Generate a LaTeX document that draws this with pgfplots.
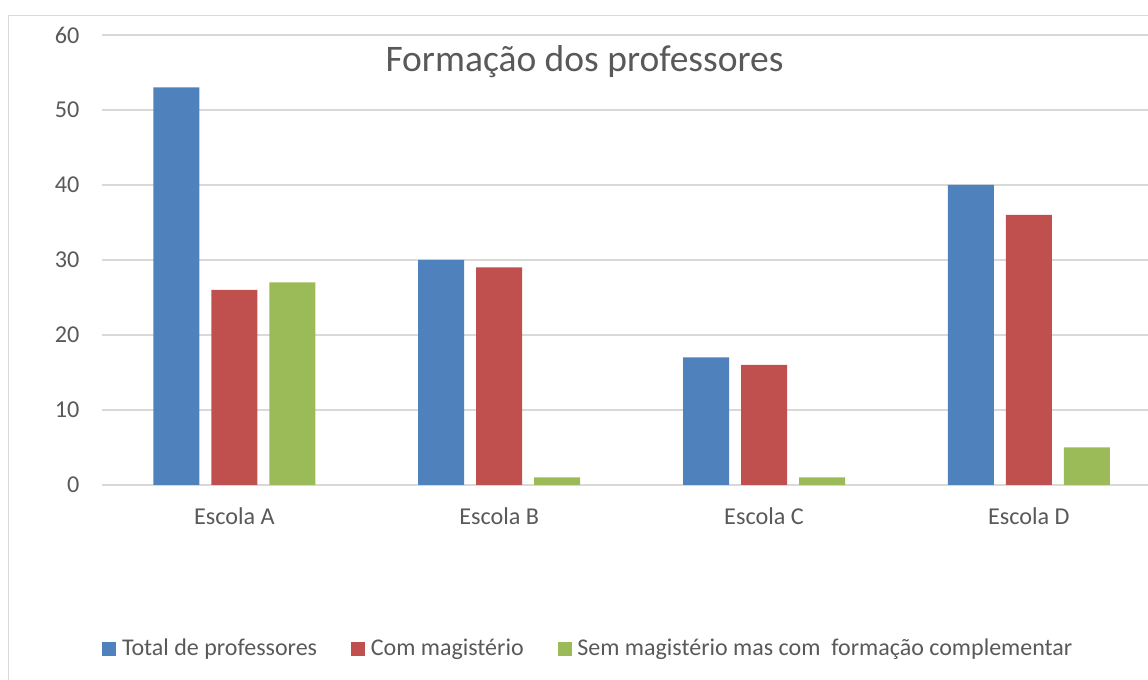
\documentclass[border=0pt]{standalone}
\usepackage{fontspec}
\setmainfont{Carlito}
\usepackage{pgfplots}
\pgfplotsset{compat=1.18}
\definecolor{cblue}{HTML}{4F81BD}
\definecolor{cred}{HTML}{C0504D}
\definecolor{cgreen}{HTML}{9BBB59}
\definecolor{cgrid}{HTML}{D9D9D9}
\definecolor{ctext}{HTML}{595959}
\begin{document}
\begin{tikzpicture}
\useasboundingbox (0,0) rectangle (574pt,340pt);
\draw[cgrid, line width=0.75pt] (4.15pt,-20pt) -- (4.15pt,332.35pt) -- (600pt,332.35pt);
\begin{axis}[
  at={(51pt,97.5pt)}, anchor=south west,
  scale only axis, width=523pt, height=225pt,
  xmin=-0.5, xmax=3.45, ymin=0, ymax=60,
  enlargelimits=false,
  ybar=6pt, bar width=23pt,
  axis line style={draw=none},
  major tick length=0pt,
  ytick={0,10,20,30,40,50,60},
  xtick={0,1,2,3},
  xticklabels={Escola A,Escola B,Escola C,Escola D},
  ymajorgrids, grid style={cgrid, line width=0.65pt},
  /pgf/number format/assume math mode=true,
  tick label style={font=\fontsize{12.1}{14}\selectfont, text=ctext, inner sep=0pt},
  yticklabel style={anchor=east, xshift=-11.1pt},
  xticklabel style={anchor=base, yshift=-19.65pt},
  legend columns=3,
  legend image code/.code={\fill[#1] (0pt,0pt) rectangle (7pt,7pt);},
  legend style={
    at={(axis description cs:0.0003,-0.3793)}, anchor=south west,
    draw=none, fill=none, inner sep=0pt, outer sep=0pt,
    column sep=0pt,
    font=\fontsize{12.0}{14}\selectfont, text=ctext,
    nodes={inner sep=0pt, anchor=base west, text depth=0pt},
    /tikz/every odd column/.append style={column sep=2.85pt},
    /tikz/every even column/.append style={column sep=17pt},
  },
]
\addplot[fill=cblue, draw=none] coordinates {(0,53) (1,30) (2,17) (3,40)};
\addlegendentry{Total de professores}
\addplot[fill=cred, draw=none] coordinates {(0,26) (1,29) (2,16) (3,36)};
\addlegendentry{Com magistério}
\addplot[fill=cgreen, draw=none] coordinates {(0,27) (1,1) (2,1) (3,5)};
\addlegendentry{Sem magistério mas com~ formação complementar}
\end{axis}
\node[anchor=base, font=\fontsize{18.75}{22}\selectfont, text=ctext] at (292.25pt,304.15pt) {Formação dos professores};
\end{tikzpicture}
\end{document}
